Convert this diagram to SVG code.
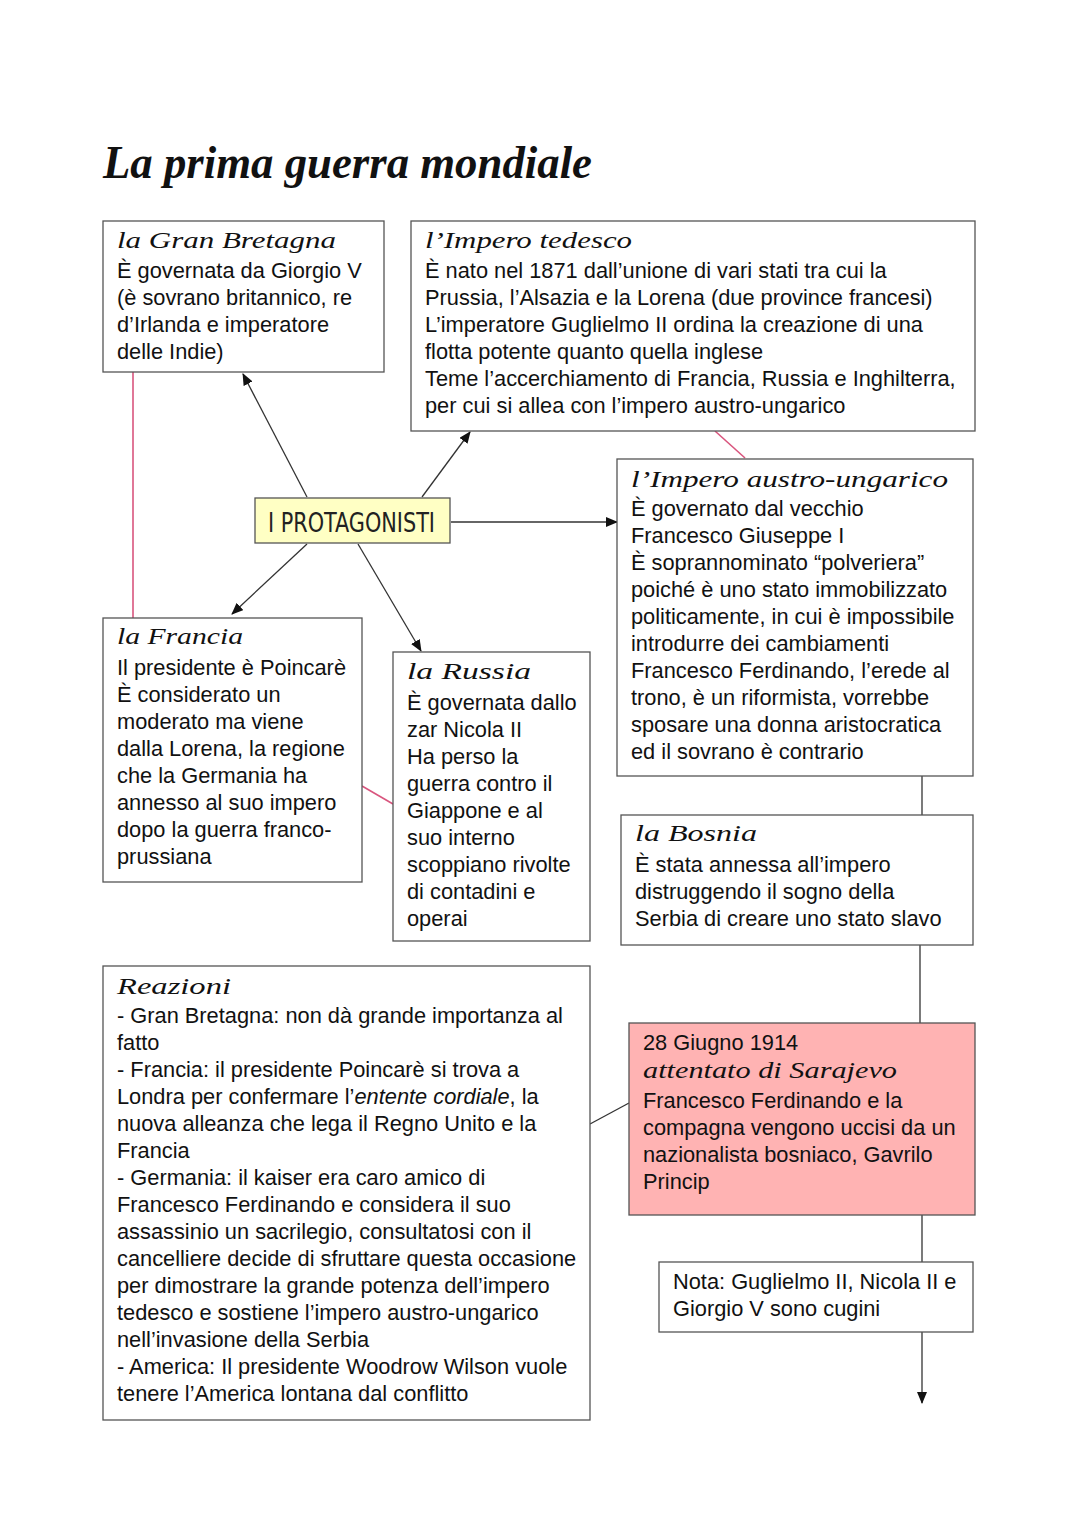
<svg xmlns="http://www.w3.org/2000/svg" width="1080" height="1527" viewBox="0 0 1080 1527">
<style>
.box{fill:#fff;stroke:#555;stroke-width:1.3}
.t{font-family:"Liberation Sans",Arial,sans-serif;font-size:21.8px;fill:#111}
.h{font-family:"Liberation Serif","DejaVu Serif",serif;font-style:italic;font-size:23px;fill:#111}
.c{stroke:#333;stroke-width:1.3;fill:none}
.p{stroke:#d9557e;stroke-width:1.6;fill:none}
</style>
<defs>
<marker id="ar" viewBox="0 0 12 10" refX="11" refY="5" markerWidth="12" markerHeight="10" markerUnits="userSpaceOnUse" orient="auto">
<path d="M0,0 L12,5 L0,10 z" fill="#111"/>
</marker>
</defs>
<rect width="1080" height="1527" fill="#fff"/>
<text x="103" y="178" font-family="Liberation Serif,DejaVu Serif,serif" font-style="italic" font-weight="bold" font-size="46" textLength="489" lengthAdjust="spacingAndGlyphs" fill="#111">La prima guerra mondiale</text>

<g id="connectors">
<line class="p" x1="133" y1="372" x2="133" y2="618"/>
<line class="p" x1="715" y1="431" x2="745" y2="458"/>
<line class="p" x1="362" y1="786" x2="393" y2="804"/>
<line class="c" x1="307" y1="497" x2="243" y2="374" marker-end="url(#ar)"/>
<line class="c" x1="422" y1="497" x2="470" y2="432" marker-end="url(#ar)"/>
<line class="c" x1="451" y1="522" x2="617" y2="522" marker-end="url(#ar)"/>
<line class="c" x1="307" y1="544" x2="232" y2="614" marker-end="url(#ar)"/>
<line class="c" x1="358" y1="544" x2="421" y2="651" marker-end="url(#ar)"/>
<line class="c" x1="922" y1="776" x2="922" y2="815"/>
<line class="c" x1="920" y1="945" x2="920" y2="1023"/>
<line class="c" x1="590" y1="1124" x2="629" y2="1103"/>
<line class="c" x1="922" y1="1215" x2="922" y2="1262"/>
<line class="c" x1="922" y1="1332" x2="922" y2="1403" marker-end="url(#ar)"/>
</g>

<g id="gran-bretagna">
<rect class="box" x="103" y="221" width="281" height="151"/>
<text class="h" x="117" y="248" textLength="219" lengthAdjust="spacingAndGlyphs">la Gran Bretagna</text>
<text class="t" x="117" y="278">È governata da Giorgio V</text>
<text class="t" x="117" y="305">(è sovrano britannico, re</text>
<text class="t" x="117" y="332">d’Irlanda e imperatore</text>
<text class="t" x="117" y="359">delle Indie)</text>
</g>

<g id="impero-tedesco">
<rect class="box" x="411" y="221" width="564" height="210"/>
<text class="h" x="425" y="248" textLength="207" lengthAdjust="spacingAndGlyphs">l’Impero tedesco</text>
<text class="t" x="425" y="278">È nato nel 1871 dall’unione di vari stati tra cui la</text>
<text class="t" x="425" y="305">Prussia, l’Alsazia e la Lorena (due province francesi)</text>
<text class="t" x="425" y="332">L’imperatore Guglielmo II ordina la creazione di una</text>
<text class="t" x="425" y="359">flotta potente quanto quella inglese</text>
<text class="t" x="425" y="386">Teme l’accerchiamento di Francia, Russia e Inghilterra,</text>
<text class="t" x="425" y="413">per cui si allea con l’impero austro-ungarico</text>
</g>

<g id="protagonisti">
<rect x="255" y="498" width="195" height="45" fill="#ffffc4" stroke="#555" stroke-width="1.3"/>
<text x="268" y="532" font-family="Liberation Sans Narrow,DejaVu Sans Condensed,sans-serif" font-stretch="condensed" font-size="27" textLength="167" lengthAdjust="spacingAndGlyphs" fill="#222">I PROTAGONISTI</text>
</g>

<g id="austro-ungarico">
<rect class="box" x="617" y="459" width="356" height="317"/>
<text class="h" x="631" y="487" textLength="317" lengthAdjust="spacingAndGlyphs">l’Impero austro-ungarico</text>
<text class="t" x="631" y="516">È governato dal vecchio</text>
<text class="t" x="631" y="543">Francesco Giuseppe I</text>
<text class="t" x="631" y="570">È soprannominato “polveriera”</text>
<text class="t" x="631" y="597">poiché è uno stato immobilizzato</text>
<text class="t" x="631" y="624">politicamente, in cui è impossibile</text>
<text class="t" x="631" y="651">introdurre dei cambiamenti</text>
<text class="t" x="631" y="678">Francesco Ferdinando, l’erede al</text>
<text class="t" x="631" y="705">trono, è un riformista, vorrebbe</text>
<text class="t" x="631" y="732">sposare una donna aristocratica</text>
<text class="t" x="631" y="759">ed il sovrano è contrario</text>
</g>

<g id="francia">
<rect class="box" x="103" y="618" width="259" height="264"/>
<text class="h" x="117" y="644" textLength="126" lengthAdjust="spacingAndGlyphs">la Francia</text>
<text class="t" x="117" y="675">Il presidente è Poincarè</text>
<text class="t" x="117" y="702">È considerato un</text>
<text class="t" x="117" y="729">moderato ma viene</text>
<text class="t" x="117" y="756">dalla Lorena, la regione</text>
<text class="t" x="117" y="783">che la Germania ha</text>
<text class="t" x="117" y="810">annesso al suo impero</text>
<text class="t" x="117" y="837">dopo la guerra franco-</text>
<text class="t" x="117" y="864">prussiana</text>
</g>

<g id="russia">
<rect class="box" x="393" y="652" width="197" height="289"/>
<text class="h" x="407" y="679" textLength="124" lengthAdjust="spacingAndGlyphs">la Russia</text>
<text class="t" x="407" y="710">È governata dallo</text>
<text class="t" x="407" y="737">zar Nicola II</text>
<text class="t" x="407" y="764">Ha perso la</text>
<text class="t" x="407" y="791">guerra contro il</text>
<text class="t" x="407" y="818">Giappone e al</text>
<text class="t" x="407" y="845">suo interno</text>
<text class="t" x="407" y="872">scoppiano rivolte</text>
<text class="t" x="407" y="899">di contadini e</text>
<text class="t" x="407" y="926">operai</text>
</g>

<g id="bosnia">
<rect class="box" x="621" y="815" width="352" height="130"/>
<text class="h" x="635" y="841" textLength="122" lengthAdjust="spacingAndGlyphs">la Bosnia</text>
<text class="t" x="635" y="872">È stata annessa all’impero</text>
<text class="t" x="635" y="899">distruggendo il sogno della</text>
<text class="t" x="635" y="926">Serbia di creare uno stato slavo</text>
</g>

<g id="reazioni">
<rect class="box" x="103" y="966" width="487" height="454"/>
<text class="h" x="117" y="994" textLength="114" lengthAdjust="spacingAndGlyphs">Reazioni</text>
<text class="t" x="117" y="1023">- Gran Bretagna: non dà grande importanza al</text>
<text class="t" x="117" y="1050">fatto</text>
<text class="t" x="117" y="1077">- Francia: il presidente Poincarè si trova a</text>
<text class="t" x="117" y="1104">Londra per confermare l’<tspan font-style="italic">entente cordiale</tspan>, la</text>
<text class="t" x="117" y="1131">nuova alleanza che lega il Regno Unito e la</text>
<text class="t" x="117" y="1158">Francia</text>
<text class="t" x="117" y="1185">- Germania: il kaiser era caro amico di</text>
<text class="t" x="117" y="1212">Francesco Ferdinando e considera il suo</text>
<text class="t" x="117" y="1239">assassinio un sacrilegio, consultatosi con il</text>
<text class="t" x="117" y="1266">cancelliere decide di sfruttare questa occasione</text>
<text class="t" x="117" y="1293">per dimostrare la grande potenza dell’impero</text>
<text class="t" x="117" y="1320">tedesco e sostiene l’impero austro-ungarico</text>
<text class="t" x="117" y="1347">nell’invasione della Serbia</text>
<text class="t" x="117" y="1374">- America: Il presidente Woodrow Wilson vuole</text>
<text class="t" x="117" y="1401">tenere l’America lontana dal conflitto</text>
</g>

<g id="sarajevo">
<rect x="629" y="1023" width="346" height="192" fill="#ffb3b3" stroke="#555" stroke-width="1.3"/>
<text class="t" x="643" y="1050">28 Giugno 1914</text>
<text class="h" x="643" y="1078" textLength="254" lengthAdjust="spacingAndGlyphs">attentato di Sarajevo</text>
<text class="t" x="643" y="1108">Francesco Ferdinando e la</text>
<text class="t" x="643" y="1135">compagna vengono uccisi da un</text>
<text class="t" x="643" y="1162">nazionalista bosniaco, Gavrilo</text>
<text class="t" x="643" y="1189">Princip</text>
</g>

<g id="nota">
<rect class="box" x="659" y="1262" width="314" height="70"/>
<text class="t" x="673" y="1289">Nota: Guglielmo II, Nicola II e</text>
<text class="t" x="673" y="1316">Giorgio V sono cugini</text>
</g>
</svg>
